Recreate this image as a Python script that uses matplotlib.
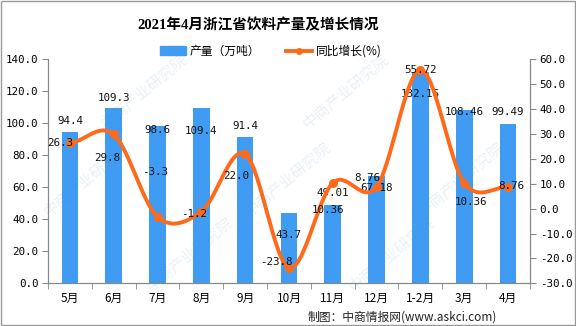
import numpy as np
import matplotlib
matplotlib.use('Agg')
import matplotlib.pyplot as plt
from matplotlib.patches import Rectangle
from matplotlib.lines import Line2D
from matplotlib.patches import Patch

plt.rcParams['font.family'] = ['DejaVu Sans', 'Noto Sans CJK SC']

# data
months = ['5月', '6月', '7月', '8月', '9月', '10月', '11月', '12月', '1-2月', '3月', '4月']
output = [94.4, 109.3, 98.6, 109.4, 91.4, 43.7, 49.01, 67.18, 132.16, 108.46, 99.49]
growth = [26.3, 29.8, -3.3, -1.2, 22.0, -23.8, 10.36, 8.76, 55.72, 10.36, 8.76]
output_labels = ['94.4', '109.3', '98.6', '109.4', '91.4', '43.7', '49.01', '67.18', '132.16', '108.46', '99.49']
growth_labels = ['26.3', '29.8', '-3.3', '-1.2', '22.0', '-23.8', '10.36', '8.76', '55.72', '10.36', '8.76']

# label offsets in pixels (dx, dy), copied from where excel dropped them
bar_off = [(0, 11), (0, 10), (0, -4), (0, -23), (0, 11), (0, -22), (0, 12), (0, -12), (0, -22), (0, -2), (0, 12)]
line_off = [(-10, 0), (-7, -24), (-2, 45), (-7, -2), (-9, -22), (-13, 6), (-5, -27), (-9, 9), (0, 0), (7, -19), (3, 1)]

bar_col = '#3F9CF2'
line_col = '#FF6A1A'
num_font = ['DejaVu Sans Mono', 'Noto Sans CJK SC']
num_size = 7.8

fig = plt.figure(figsize=(5.76, 3.26), dpi=100)
ax = fig.add_axes([0.0833, 0.131, 0.8367, 0.687])
ax2 = ax.twinx()

x = np.arange(len(months))
ax.bar(x, output, width=0.38, color=bar_col, zorder=2)
ax.set_xlim(-0.5, len(months) - 0.5)
ax.set_ylim(0, 140)
ax.set_yticks(np.arange(0, 141, 20))
ax.set_yticklabels(['%.1f' % v for v in np.arange(0, 141, 20)], family=num_font, fontsize=num_size)
ax2.set_ylim(-30, 60)
ax2.set_yticks(np.arange(-30, 61, 10))
ax2.set_yticklabels(['%.1f' % v for v in np.arange(-30, 61, 10)], family=num_font, fontsize=num_size)

ax.set_xticks(x)
ax.set_xticklabels(months, fontsize=8.5, family=['Noto Sans CJK SC', 'DejaVu Sans'])
ax.set_xticks(np.arange(-0.5, len(months), 1), minor=True)
ax.tick_params(axis='x', which='major', length=0, pad=6)
ax.tick_params(axis='x', which='minor', length=4, color='#888888')
ax.tick_params(axis='y', length=4, color='#888888', pad=3)
ax2.tick_params(axis='y', length=4, color='#888888', pad=3)

for a in (ax, ax2):
    a.spines['top'].set_visible(False)
    for s in ('left', 'right', 'bottom'):
        a.spines[s].set_color('#888888')
        a.spines[s].set_linewidth(0.8)

# smoothed line (catmull-rom style, like excel)
g = np.array(growth)
tang = np.zeros(len(g))
tang[1:-1] = (g[2:] - g[:-2]) / 2
tang[0] = (g[1] - g[0]) / 2
tang[-1] = (g[-1] - g[-2]) / 2
xs, ys = [], []
t = np.linspace(0, 1, 30)
for i in range(len(g) - 1):
    h00 = 2*t**3 - 3*t**2 + 1
    h10 = t**3 - 2*t**2 + t
    h01 = -2*t**3 + 3*t**2
    h11 = t**3 - t**2
    xs.extend(i + t)
    ys.extend(h00*g[i] + h10*tang[i] + h01*g[i+1] + h11*tang[i+1])
ax2.plot(xs, ys, color=line_col, lw=2.8, zorder=3, solid_capstyle='round')
ax2.plot(x, g, 'o', color=line_col, ms=5.5, zorder=4)

for i in range(len(months)):
    ax.annotate(output_labels[i], (x[i], output[i]), xytext=(bar_off[i][0], bar_off[i][1]),
                textcoords='offset pixels', ha='center', va='center', fontsize=num_size,
                family=num_font, color='#111111', zorder=5)
    ax2.annotate(growth_labels[i], (x[i], growth[i]), xytext=(line_off[i][0], line_off[i][1]),
                 textcoords='offset pixels', ha='center', va='center', fontsize=num_size,
                 family=num_font, color='#111111', zorder=5)

# watermark, kept well inside the figure
for wx, wy in [(0.25, 0.72), (0.6, 0.72), (0.15, 0.45), (0.5, 0.45), (0.8, 0.45),
               (0.33, 0.22), (0.68, 0.22)]:
    fig.text(wx, wy, '中商产业研究院', fontsize=11, rotation=40, color='#4a90c8', alpha=0.12,
             ha='center', va='center', family=['Noto Sans CJK SC'], zorder=0)

fig.text(0.448, 0.923, '2021年4月浙江省饮料产量及增长情况', fontsize=10.5, fontweight='bold',
         ha='center', va='center', family=['Liberation Serif', 'Noto Sans CJK SC'])

handles = [Patch(color=bar_col), Line2D([], [], color=line_col, lw=2.8, marker='o', ms=4)]
fig.legend(handles, ['产量（万吨）', '同比增长(%)'], loc='center', bbox_to_anchor=(0.47, 0.843),
           ncol=2, frameon=False, handlelength=2.2, handleheight=0.7,
           columnspacing=2.2, handletextpad=0.3, prop={'family': ['Noto Sans CJK SC'], 'size': 8.5})

fig.text(0.863, 0.028, '制图：中商情报网(www.askci.com)', fontsize=8.5, ha='right', va='center',
         family=['Noto Sans CJK SC', 'DejaVu Sans'], color='#222222')

fig.patches.append(Rectangle((0.001, 0.002), 0.997, 0.996, transform=fig.transFigure,
                             fill=False, edgecolor='#999999', lw=1))

fig.savefig('out.png', dpi=100)
